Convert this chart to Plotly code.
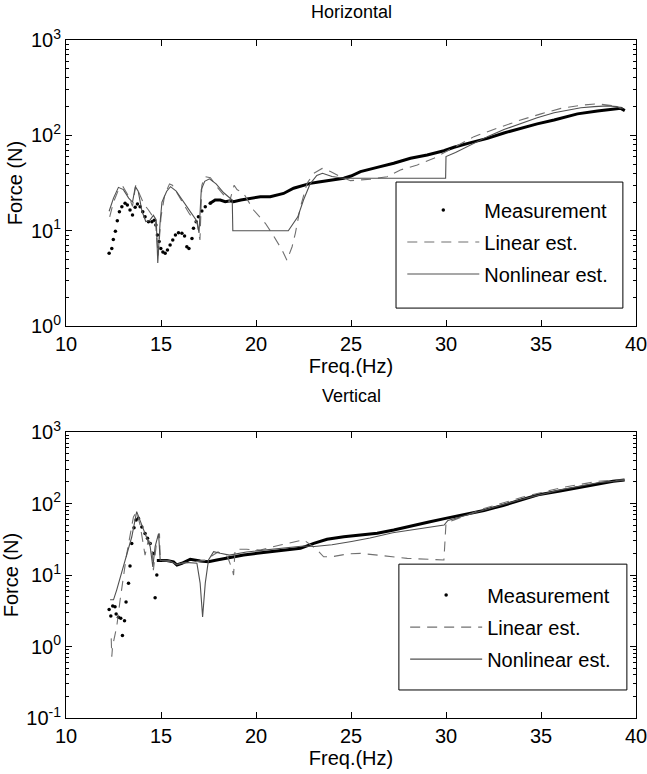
import plotly.graph_objects as go

# ---------------- Horizontal ----------------
h_dot_f = [12.27, 12.41, 12.49, 12.6, 12.7, 12.81, 12.94, 13.11, 13.23, 13.37, 13.5, 13.64, 13.76, 13.9,
           14.04, 14.16, 14.34, 14.52, 14.64, 14.73, 14.81, 14.9, 14.99, 15.1, 15.22, 15.34, 15.48, 15.62,
           15.76, 15.92, 16.1, 16.24, 16.36, 16.47, 16.63, 16.71, 16.85, 16.97, 17.15, 17.33, 17.59]
h_dot_F = [5.8, 6.5, 8.1, 9.9, 12.7, 15.8, 17.8, 19.4, 18.6, 16.5, 14.6, 17.6, 19.1, 17.8,
           15.8, 14.0, 12.4, 12.4, 12.9, 11.5, 9.0, 7.7, 6.5, 6.0, 5.8, 6.3, 7.1, 8.0,
           9.0, 9.5, 9.4, 8.8, 6.8, 6.5, 8.3, 10.6, 12.4, 14.0, 16.1, 17.8, 19.4]
h_line_f = [17.59, 17.85, 18.12, 18.38, 18.65, 18.82, 19.2, 19.7, 20.23, 20.75, 21.1, 21.45, 21.98, 22.4,
            22.86, 23.3, 23.74, 24.2, 24.62, 25.0, 25.5, 26.38, 27.25, 28.13, 28.66, 29.01, 29.89, 30.42,
            31.3, 32.18, 33.05, 33.93, 34.8, 35.69, 36.3, 36.92, 37.97, 38.85, 39.2, 39.41]
h_line_F = [19.4, 21, 21, 20.2, 20.6, 20.2, 21, 21.9, 22.7, 22.7, 23.7, 24.6, 27.9, 29.6,
            31.4, 32.5, 33.5, 34.5, 35.5, 37.5, 41.7, 46.2, 51, 57.5, 59.7, 62.3, 69, 75,
            84, 93, 106, 119, 132, 145, 156, 168, 180, 189, 192, 182]
h_lin_f = [12.3, 12.5, 12.8, 13.0, 13.3, 13.5, 13.67, 13.85, 14.1, 14.34, 14.7, 14.85, 15.0, 15.2, 15.45,
           15.6, 16.0, 16.5, 16.9, 17.05, 17.15, 17.3, 17.6, 18.0, 18.6, 18.85, 19.0, 19.35, 19.87, 20.5,
           20.84, 21.37, 21.63, 21.9, 22.07, 22.34, 22.69, 23.04, 23.48, 23.92, 24.44, 24.97, 26.03, 26.9,
           27.6, 28.49, 29.36, 30.4, 31.47, 32.7, 33.93, 35.0, 36.05, 37.1, 37.97, 38.85, 39.2]
h_lin_F = [14, 20, 28, 29, 23, 18, 30, 25, 19, 16.5, 12.9, 5.5, 14, 24, 31,
           30, 22, 15, 12, 8, 30, 37, 36, 28, 20, 30, 27, 24.6, 16.5, 11.9,
           9.4, 6.3, 4.9, 6.8, 9.4, 17.8, 31.4, 40, 45, 41.7, 36.9, 33.5, 34.7, 36.9,
           43.4, 49, 57.5, 75, 97, 119, 145, 168, 192, 207, 214, 204, 192]
h_nl_f = [12.27, 12.5, 12.76, 13.02, 13.3, 13.5, 13.65, 13.8, 14.0, 14.2, 14.4, 14.6, 14.75, 14.83, 14.95,
          15.05, 15.3, 15.5, 15.8, 16.2, 16.6, 16.9, 17.0, 17.12, 17.3, 17.55, 17.9, 18.3, 18.75, 18.78,
          21.7, 21.9, 22.2, 22.5, 22.85, 23.2, 23.5, 24.0, 24.6, 29.98, 30.0, 30.5, 31.3, 32.18, 33.05,
          33.93, 34.8, 35.69, 36.4, 37.1, 37.8, 38.5, 39.0, 39.3]
h_nl_F = [16, 22, 28.5, 27, 22, 20, 29, 26, 16, 12.5, 12.8, 14.5, 13, 4.6, 12,
          20, 26, 29, 26, 20, 15, 12.5, 9.5, 27, 33, 35, 31, 25, 21, 10,
          10, 11.5, 14, 21, 31, 38, 40, 37, 35.5, 35.5, 60, 66, 80, 97, 115,
          134, 153, 173, 185, 195, 200, 204, 200, 192]

# ---------------- Vertical ----------------
v_dot_f = [12.27, 12.36, 12.46, 12.58, 12.64, 12.76, 12.88, 12.97, 13.08, 13.16, 13.29, 13.37, 13.46,
           13.58, 13.69, 13.81, 13.99, 14.16, 14.29, 14.43, 14.6, 14.69, 14.78]
v_dot_F = [3.3, 2.67, 3.7, 3.6, 2.85, 2.56, 2.48, 1.42, 2.3, 4.2, 7.7, 13.4, 27.7,
           46, 59, 62, 47, 38, 32.6, 27.7, 20, 4.8, 10]
v_line_f = [14.78, 14.96, 15.31, 15.66, 15.84, 16.1, 16.54, 17.07, 17.5, 17.94, 18.65, 19.35, 20.05,
            20.93, 21.81, 22.34, 23.04, 23.74, 24.62, 25.5, 26.38, 27.25, 28.2, 29.1, 30.04, 31.0,
            32.0, 33.0, 34.0, 34.84, 36.0, 37.0, 38.1, 38.8, 39.4]
v_line_F = [16, 16, 16, 15.3, 13.8, 14.6, 16.6, 15.7, 15.3, 16.2, 17.7, 19, 20.1,
            21.2, 22.4, 23.6, 27.7, 31.6, 34.4, 36.3, 38.3, 42.6, 48, 55, 62.5, 70,
            80, 94, 112, 132, 150, 168, 191, 205, 213]
v_lin_f = [12.38, 12.41, 12.45, 12.67, 12.85, 13.02, 13.2, 13.55, 13.72, 13.9, 14.07, 14.16, 14.34, 14.52,
           14.6, 14.78, 14.92, 14.96, 15.5, 16.0, 16.5, 17.0, 17.3, 17.6, 18.0, 18.5, 18.75, 18.82, 18.9,
           19.5, 20.23, 21.28, 22.51, 23.13, 23.56, 24.0, 24.8, 25.5, 26.38, 27.25, 27.96, 29.89, 30.0,
           30.5, 32.0, 34.0, 36.0, 38.0, 39.4]
v_lin_F = [1.3, 0.72, 1.0, 1.9, 4.5, 9.5, 20, 65, 77, 50, 25, 19, 31, 25,
           11.7, 31, 38, 16, 15.5, 14.5, 15, 15.5, 16, 18, 21, 18, 12, 10, 22.9,
           22.9, 22.4, 26.3, 31, 23.6, 18, 18, 19.7, 20.1, 19, 18, 17.1, 16.2, 53,
           60, 85, 122, 165, 205, 215]
v_nl_f = [12.32, 12.5, 12.67, 13.02, 13.29, 13.46, 13.72, 13.9, 14.16, 14.43, 14.57, 14.69, 14.87, 14.96,
          15.4, 15.84, 16.3, 16.89, 17.06, 17.19, 17.33, 17.5, 17.77, 18.12, 18.6, 19.5, 20.5, 21.5,
          22.5, 23.07, 24.0, 25.03, 26.0, 27.2, 28.5, 29.9, 30.1, 31.0, 32.0, 34.0, 36.0, 38.0, 39.4]
v_nl_F = [4.5, 4.5, 6.2, 13, 22.4, 34, 77, 59, 38, 25, 13, 25, 38, 16,
          16, 14, 15, 14.6, 7.7, 2.6, 7.7, 16.2, 21.2, 20.1, 19, 21, 22.5, 24,
          25.5, 25, 26.5, 29.5, 33, 39, 44, 50, 58, 68, 82, 115, 155, 195, 212]

x_ticks = [10, 15, 20, 25, 30, 35, 40]
h_ytick_vals = [1, 10, 100, 1000]
h_ytick_text = ["10<sup>0</sup>", "10<sup>1</sup>", "10<sup>2</sup>", "10<sup>3</sup>"]
v_ytick_vals = [0.1, 1, 10, 100, 1000]
v_ytick_text = ["10<sup>-1</sup>", "10<sup>0</sup>", "10<sup>1</sup>", "10<sup>2</sup>", "10<sup>3</sup>"]
names = ["Measurement", "Linear est.", "Nonlinear est."]

FONT = "Liberation Sans, Arial, Helvetica, sans-serif"
LINE_GRAY = "#505050"
DASH_GRAY = "#707070"

fig = go.Figure()


def add_panel(dot_f, dot_F, line_f, line_F, lin_f, lin_F, nl_f, nl_F, xa, ya, leg):
    fig.add_trace(go.Scatter(x=dot_f, y=dot_F, mode="markers", name=names[0], legendgroup=leg + "a",
                             marker=dict(color="black", size=3.5, symbol="circle"),
                             xaxis=xa, yaxis=ya, legend=leg))
    fig.add_trace(go.Scatter(x=line_f, y=line_F, mode="lines", showlegend=False, legendgroup=leg + "a",
                             line=dict(color="black", width=3),
                             xaxis=xa, yaxis=ya, legend=leg))
    fig.add_trace(go.Scatter(x=lin_f, y=lin_F, mode="lines", name=names[1], legendgroup=leg + "b",
                             line=dict(color=DASH_GRAY, width=1.1, dash="10px,7px"),
                             xaxis=xa, yaxis=ya, legend=leg))
    fig.add_trace(go.Scatter(x=nl_f, y=nl_F, mode="lines", name=names[2], legendgroup=leg + "c",
                             line=dict(color=LINE_GRAY, width=1.1),
                             xaxis=xa, yaxis=ya, legend=leg))


add_panel(h_dot_f, h_dot_F, h_line_f, h_line_F, h_lin_f, h_lin_F, h_nl_f, h_nl_F, "x", "y", "legend")
add_panel(v_dot_f, v_dot_F, v_line_f, v_line_F, v_lin_f, v_lin_F, v_nl_f, v_nl_F, "x2", "y2", "legend2")

axis_common = dict(showline=True, linecolor="black", linewidth=1, mirror="allticks",
                   ticks="inside", ticklen=6, tickcolor="black", showgrid=False, zeroline=False,
                   automargin=False, ticklabeloverflow="allow",
                   tickfont=dict(size=20, color="black", family=FONT))

xcfg = dict(axis_common, range=[10, 40], tickmode="array", tickvals=x_ticks,
            title=dict(text="Freq.(Hz)", font=dict(size=20, family=FONT, color="black"), standoff=4))

minor_vals_h = [m * 10 ** k for k in range(0, 3) for m in range(2, 10)]
minor_vals_v = [m * 10 ** k for k in range(-1, 3) for m in range(2, 10)]

leg_common = dict(xanchor="left", yanchor="top", bgcolor="rgba(0,0,0,0)", borderwidth=0,
                  font=dict(size=20, family=FONT, color="black"), itemwidth=72, tracegroupgap=3)

fig.update_layout(
    width=647, height=774,
    margin=dict(l=66, r=11, t=40, b=56, autoexpand=False),
    paper_bgcolor="white", plot_bgcolor="white",
    font=dict(family=FONT, color="black"),
    xaxis=dict(xcfg, domain=[0, 1], anchor="y"),
    xaxis2=dict(xcfg, domain=[0, 1], anchor="y2"),
    yaxis=dict(axis_common, type="log", range=[0, 3], domain=[0.578, 1], anchor="x",
               tickmode="array", tickvals=h_ytick_vals, ticktext=h_ytick_text,
               minor=dict(ticks="inside", ticklen=3, tickcolor="black", tickvals=minor_vals_h),
               title=dict(text="Force (N)", font=dict(size=20, family=FONT, color="black"), standoff=2)),
    yaxis2=dict(axis_common, type="log", range=[-1, 3], domain=[0, 0.4218], anchor="x2",
                tickmode="array", tickvals=v_ytick_vals, ticktext=v_ytick_text,
                minor=dict(ticks="inside", ticklen=3, tickcolor="black", tickvals=minor_vals_v),
                title=dict(text="Force (N)", font=dict(size=20, family=FONT, color="black"), standoff=2)),
    legend=dict(leg_common, x=0.59, y=0.778),
    legend2=dict(leg_common, x=0.595, y=0.21),
    showlegend=True,
)

# legend boxes
fig.add_shape(type="rect", xref="x domain", yref="y domain", x0=0.579, x1=0.977, y0=0.063, y1=0.5035,
              line=dict(color="black", width=1), fillcolor="rgba(0,0,0,0)")
fig.add_shape(type="rect", xref="x2 domain", yref="y2 domain", x0=0.584, x1=0.984, y0=0.098, y1=0.538,
              line=dict(color="black", width=1), fillcolor="rgba(0,0,0,0)")

# titles
fig.add_annotation(text="Horizontal", xref="x domain", yref="y domain", x=0.5, y=1, yanchor="bottom",
                   yshift=16, showarrow=False, font=dict(size=18, family=FONT, color="black"))
fig.add_annotation(text="Vertical", xref="x2 domain", yref="y2 domain", x=0.5, y=1, yanchor="bottom",
                   yshift=24, showarrow=False, font=dict(size=18, family=FONT, color="black"))

fig.write_html("out.html")
